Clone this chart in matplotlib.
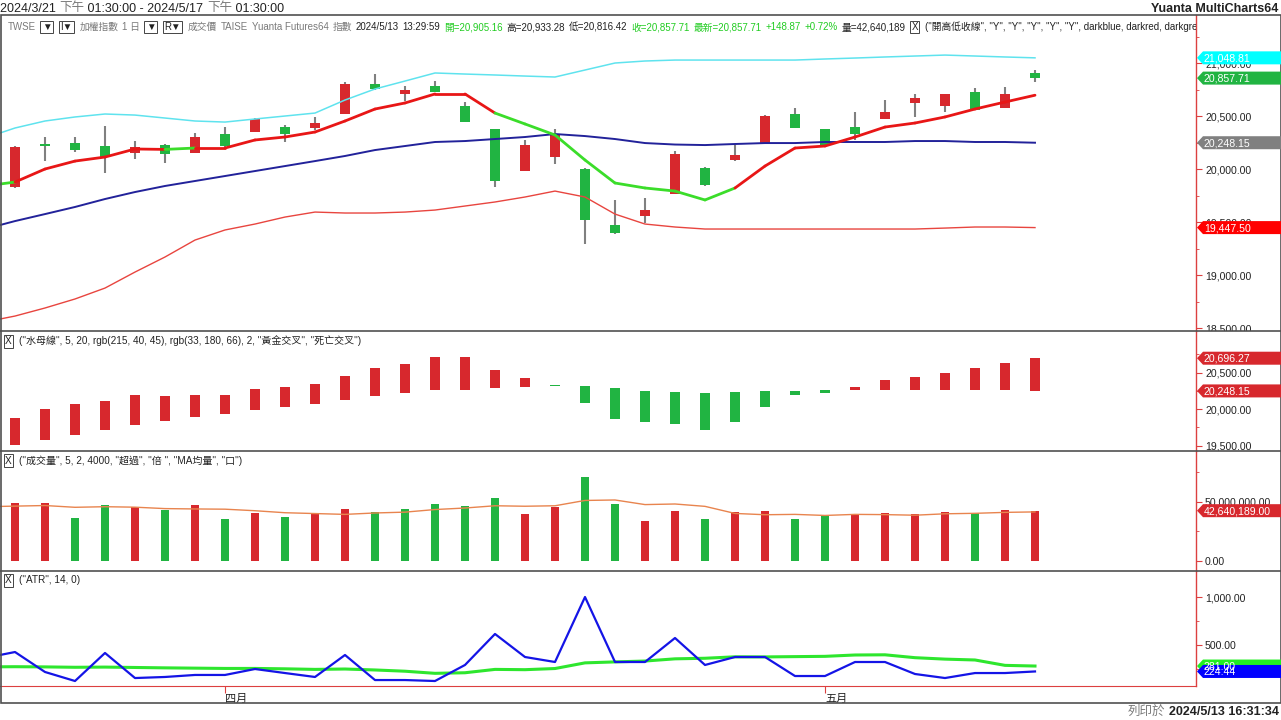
import numpy as np
import matplotlib
matplotlib.use("Agg")
import matplotlib.pyplot as plt
import matplotlib.transforms as mtransforms
from matplotlib.patches import Polygon, Rectangle
from matplotlib.lines import Line2D
from matplotlib.ticker import FixedLocator, FuncFormatter

plt.rcParams['font.family'] = ['Liberation Sans', 'Noto Sans CJK TC', 'DejaVu Sans']

# ---------------- data ----------------
month_ticks = [7, 27]
month_labels = ['四月', '五月']

opens = [19830, 20236, 20245, 20217, 20151, 20226, 20151, 20330, 20349, 20396,
         20387, 20519, 20802, 20708, 20783, 20594, 20377, 19981, 20113, 20000,
         19472, 19557, 19764, 20009, 20085, 20236, 20519, 20377, 20396, 20472,
         20623, 20594, 20726, 20575, 20905.16]
highs = [20215, 20302, 20302, 20406, 20264, 20236, 20340, 20396, 20481, 20415,
         20491, 20821, 20896, 20783, 20830, 20632, 20380, 20274, 20377, 20005,
         19708, 19726, 20170, 20019, 20226, 20505, 20575, 20380, 20538, 20651,
         20708, 20712, 20764, 20774, 20933.28]
lows = [19825, 20075, 20160, 19962, 20094, 20057, 20148, 20208, 20345, 20255,
        20368, 20515, 20750, 20642, 20722, 20440, 19830, 19978, 20047, 19292,
        19387, 19491, 19760, 19840, 20080, 20232, 20383, 20213, 20274, 20468,
        20491, 20538, 20553, 20571, 20816.42]
closes = [20208, 20217, 20179, 20113, 20208, 20142, 20302, 20217, 20472, 20330,
          20434, 20802, 20755, 20750, 20726, 20443, 19887, 20226, 20321, 19519,
          19396, 19613, 20142, 19849, 20132, 20500, 20387, 20217, 20330, 20538,
          20670, 20708, 20557, 20708.84, 20857.71]

# line series start one bar before the first candle (bar -1 .. 34)
band_upper = [20292, 20387, 20453, 20491, 20519, 20509, 20481, 20453, 20443, 20472,
              20500, 20528, 20651, 20755, 20830, 20906, 20896, 20887, 20877, 20868,
              20934, 21000, 21019, 21028, 21028, 21028, 21028, 21028, 21038, 21047,
              21057, 21066, 21075, 21066, 21057, 21048.81]
ma20 = [19434, 19509, 19575, 19642, 19717, 19783, 19840, 19887, 19934, 19981,
        20028, 20075, 20123, 20179, 20217, 20255, 20264, 20283, 20302, 20330,
        20311, 20283, 20245, 20231, 20226, 20236, 20245, 20245, 20255, 20255,
        20255, 20264, 20264, 20255, 20255, 20248.15]
band_lower = [18557, 18613, 18689, 18774, 18877, 19028, 19170, 19330, 19425, 19481,
              19547, 19594, 19585, 19585, 19594, 19613, 19651, 19689, 19736, 19792,
              19736, 19575, 19481, 19453, 19434, 19434, 19434, 19434, 19434, 19434,
              19434, 19434, 19443, 19453, 19453, 19447.5]
ma5 = [19840, 19877, 20000, 20075, 20113, 20189, 20185, 20198, 20198, 20274,
       20302, 20349, 20453, 20566, 20623, 20708, 20708, 20528, 20425, 20321,
       20085, 19868, 19821, 19792, 19708, 19821, 20028, 20198, 20217, 20302,
       20396, 20434, 20491, 20566, 20632, 20696.27]
# colour of the MA5 segment that ends at bar i (1 = red / rising, 0 = green)
ma5_seg_up = [0, 1, 1, 1, 1, 1, 0, 1, 1, 1, 1, 1, 1, 1, 1, 1, 1, 0, 0, 0,
              0, 0, 0, 0, 0, 1, 1, 1, 1, 1, 1, 1, 1, 1, 1]

volume_m = [49.2, 49.2, 36.4, 47.5, 45.8, 43.2, 47.5, 35.6, 40.7, 37.3,
            39.8, 44.1, 41.5, 44.1, 48.3, 46.6, 53.4, 39.8, 45.8, 71.2,
            48.3, 33.9, 42.4, 35.6, 41.5, 42.4, 35.6, 38.1, 39.8, 40.7,
            39.8, 41.5, 40.7, 43.2, 42.640189]
volume_up = [1, 1, 0, 0, 1, 0, 1, 0, 1, 0, 1, 1, 0, 0, 0, 0, 0, 1, 1, 0,
             0, 1, 1, 0, 1, 1, 0, 0, 1, 1, 1, 1, 0, 1, 1]
volume_ma_m = [46.0, 46.5, 47.0, 45.5, 46.0, 45.6, 44.4, 44.1, 43.9, 42.6,
               40.9, 40.2, 39.5, 40.7, 41.4, 43.6, 44.9, 46.8, 46.4, 46.8,
               51.3, 51.7, 47.8, 48.3, 46.3, 40.3, 39.2, 39.5, 38.6, 39.5,
               39.3, 38.8, 40.0, 40.4, 41.2, 41.6]
true_range = [365, 427, 219, 125, 417, 156, 167, 188, 188, 250,
              208, 167, 396, 135, 135, 125, 292, 615, 375, 323,
              1000, 323, 323, 573, 292, 375, 375, 177, 177, 323,
              323, 198, 156, 208, 208, 224.44]
atr14 = [272, 274, 272, 268, 270, 266, 262, 259, 256, 256,
         252, 246, 250, 240, 227, 205, 211, 246, 243, 255,
         314, 324, 333, 356, 362, 377, 376, 379, 382, 396,
         398, 368, 353, 344, 288, 281]

# ---------------- style ----------------
RED = '#D7282D'
GREEN = '#21B442'
WICK = '#808080'
AXRED = '#DC4040'
FRAME = '#505050'
TXT = '#222222'
GRAY = '#7A7A7A'
LGREEN = '#22CC22'

W, H = 1281, 720
AXR = 1196
AXF = AXR / W
fig = plt.figure(figsize=(W / 100, H / 100), dpi=100)
fig.patch.set_facecolor('white')


def fx(px):
    return px / W


def fy(py):
    return 1 - py / H


n = len(closes)
x = np.arange(n)
xl = np.arange(-1, n)
XL = (-0.5, -0.5 + AXR / 30.0)

panels = [(15, 331), (331, 451), (451, 571), (571, 686)]
axes = []
for top, bot in panels:
    a = fig.add_axes([0, fy(bot), AXF, (bot - top) / H])
    a.set_xlim(*XL)
    a.set_facecolor('white')
    for s in ['top', 'left', 'bottom']:
        a.spines[s].set_visible(False)
    a.spines['right'].set_color(AXRED)
    a.spines['right'].set_linewidth(1.0)
    a.yaxis.tick_right()
    a.tick_params(axis='y', which='major', direction='out', length=4, color=AXRED,
                  labelsize=7.6, labelcolor=TXT, pad=2.5)
    a.tick_params(axis='y', which='minor', direction='out', length=2, color=AXRED)
    a.tick_params(axis='x', which='both', bottom=False, labelbottom=False)
    a.yaxis.set_major_formatter(FuncFormatter(lambda v, p: f'{v:,.2f}'))
    axes.append(a)
ax1, ax2, ax3, ax4 = axes

# ---- main price panel ----
o = np.array(opens, float)
c = np.array(closes, float)
up = c >= o
ax1.vlines(x, lows, highs, color=WICK, lw=1.5, zorder=2)
ax1.bar(x, np.abs(c - o), bottom=np.minimum(o, c), width=0.34,
        color=np.where(up, RED, GREEN), linewidth=0, zorder=3)
ax1.plot(xl, band_upper, color='#5FE3EE', lw=1.1, zorder=4)
ax1.plot(xl, ma20, color='#22229A', lw=1.4, zorder=4)
ax1.plot(xl, band_lower, color='#E8453F', lw=1.0, zorder=4)
for i in range(n):
    ax1.plot([xl[i], xl[i + 1]], [ma5[i], ma5[i + 1]],
             color='#E81616' if ma5_seg_up[i] else '#3BDD2A', lw=2.0,
             solid_capstyle='round', zorder=5)
ax1.set_ylim(18472, 21453)
ax1.yaxis.set_major_locator(FixedLocator([18500, 19000, 19500, 20000, 20500, 21000]))
ax1.yaxis.set_minor_locator(FixedLocator([18750, 19250, 19750, 20250, 20750, 21250]))

# ---- MA5 / MA20 panel ----
m5 = np.array(ma5[1:])
m20 = np.array(ma20[1:])
ax2.bar(x, np.abs(m5 - m20), bottom=np.minimum(m5, m20), width=0.34,
        color=np.where(m5 > m20, RED, GREEN), linewidth=0)
ax2.set_ylim(19425, 21069)
ax2.yaxis.set_major_locator(FixedLocator([19500, 20000, 20500]))
ax2.yaxis.set_minor_locator(FixedLocator([19750, 20250, 20750]))

# ---- volume panel ----
vol = np.array(volume_m) * 1e6
ax3.bar(x, vol, width=0.27, color=np.where(np.array(volume_up) == 1, RED, GREEN), linewidth=0)
ax3.plot(xl, np.array(volume_ma_m) * 1e6, color='#E8844E', lw=1.0)
ax3.set_ylim(-8.47e6, 93.2e6)
ax3.yaxis.set_major_locator(FixedLocator([0, 50e6]))
ax3.yaxis.set_minor_locator(FixedLocator([25e6, 75e6]))

# ---- ATR panel ----
ax4.plot(xl, atr14, color='#2EE62E', lw=2.2)
ax4.plot(xl, true_range, color='#1414E6', lw=1.6)
ax4.set_ylim(73, 1271)
ax4.yaxis.set_major_locator(FixedLocator([500, 1000]))
ax4.yaxis.set_minor_locator(FixedLocator([250, 750]))
ax4.spines['bottom'].set_visible(True)
ax4.spines['bottom'].set_color(AXRED)
ax4.set_xticks(month_ticks)
ax4.set_xticklabels(month_labels)
ax4.tick_params(axis='x', which='major', bottom=True, labelbottom=True, direction='out',
                length=5, color=AXRED, labelsize=8, labelcolor=TXT, pad=1)
for lab in ax4.get_xticklabels():
    lab.set_ha('left')

# clip tick labels to their panel band
for a, (top, bot) in zip(axes, panels):
    bb = mtransforms.TransformedBbox(mtransforms.Bbox([[0, fy(bot)], [1, fy(top)]]), fig.transFigure)
    for t in a.yaxis.get_major_ticks():
        t.label2.set_clip_box(bb)
        t.label2.set_clip_on(True)

# ---- value tags on the right ----
def tag(a, value, fc, tc='white'):
    base = mtransforms.blended_transform_factory(fig.transFigure, a.transData)
    tr = mtransforms.Affine2D() + mtransforms.ScaledTranslation(AXF, value, base)
    verts = [(1, 0), (7, 6.5), (86, 6.5), (86, -6.5), (7, -6.5)]
    fig.add_artist(Polygon(verts, closed=True, transform=tr, fc=fc, ec='none', zorder=20))
    fig.text(8, -0.5, f'{value:,.2f}', transform=tr, fontsize=7.6, color=tc,
             va='center', ha='left', zorder=21)

tag(ax1, band_upper[-1], '#00FFFF')
tag(ax1, closes[-1], GREEN)
tag(ax1, ma20[-1], '#808080')
tag(ax1, band_lower[-1], '#FF0000')
tag(ax2, ma5[-1], RED)
tag(ax2, ma20[-1], RED)
tag(ax3, vol[-1], RED)
tag(ax4, atr14[-1], '#22EE22')
tag(ax4, true_range[-1], '#0000FF')

# ---- frame & separators ----
for yy in [331, 451, 571]:
    fig.add_artist(Line2D([0, 1], [fy(yy), fy(yy)], transform=fig.transFigure,
                          color=FRAME, lw=1.2, zorder=15))
fig.add_artist(Rectangle((fx(0.5), fy(703)), fx(1280), (703 - 15) / H, transform=fig.transFigure,
                         fill=False, ec=FRAME, lw=1.2, zorder=15))

# ---- texts ----
renderer = fig.canvas.get_renderer()


def run_text(x0, y, pieces, size, clipbox=None, gap=4):
    xx = x0
    for s, col, boxed, weight in pieces:
        kw = {}
        if boxed:
            kw['bbox'] = dict(boxstyle='square,pad=0.15', fc='white', ec='#444444', lw=0.7)
        t = fig.text(fx(xx + (2 if boxed else 0)), fy(y), s, fontsize=size, color=col,
                     va='center', ha='left', fontweight=weight, zorder=18, **kw)
        if clipbox is not None:
            t.set_clip_box(clipbox)
            t.set_clip_on(True)
        bb = t.get_window_extent(renderer)
        xx = bb.x1 + (gap + 3 if boxed else gap)
    return xx


run_text(0, 8.5, [('2024/3/21 ', TXT, False, 'normal'), ('下午', GRAY, False, 'normal'),
                  (' 01:30:00 - 2024/5/17 ', TXT, False, 'normal'), ('下午', GRAY, False, 'normal'),
                  (' 01:30:00', TXT, False, 'normal')], 9, gap=0)
fig.text(fx(1278), fy(8.5), 'Yuanta MultiCharts64', fontsize=9, fontweight='bold',
         color=TXT, ha='right', va='center')
t_end = fig.text(fx(1279), fy(712), '2024/5/13 16:31:34', fontsize=9, fontweight='bold',
                 color=TXT, ha='right', va='center')
bb = t_end.get_window_extent(renderer)
fig.text(fx(bb.x0 - 4), fy(712), '列印於', fontsize=9, color=GRAY, ha='right', va='center')

chg = closes[-1] - closes[-2]
pct = chg / closes[-2] * 100
clip_hdr = mtransforms.TransformedBbox(mtransforms.Bbox([[0, 0], [AXF, 1]]), fig.transFigure)
run_text(8, 27, [
    ('TWSE', GRAY, False, 'normal'),
    ('▼', TXT, True, 'normal'),
    ('I▼', TXT, True, 'normal'),
    ('加權指數', GRAY, False, 'normal'),
    ('1 日', GRAY, False, 'normal'),
    ('▼', TXT, True, 'normal'),
    ('R▼', TXT, True, 'normal'),
    ('成交價', GRAY, False, 'normal'),
    ('TAISE', GRAY, False, 'normal'),
    ('Yuanta Futures64', GRAY, False, 'normal'),
    ('指數', GRAY, False, 'normal'),
    ('2024/5/13', TXT, False, 'normal'),
    ('13:29:59', TXT, False, 'normal'),
    (f'開={opens[-1]:,.2f}', LGREEN, False, 'normal'),
    (f'高={highs[-1]:,.2f}', TXT, False, 'normal'),
    (f'低={lows[-1]:,.2f}', TXT, False, 'normal'),
    (f'收={closes[-1]:,.2f}', LGREEN, False, 'normal'),
    (f'最新={closes[-1]:,.2f}', LGREEN, False, 'normal'),
    (f'+{chg:,.2f}', LGREEN, False, 'normal'),
    (f'+{pct:.2f}%', LGREEN, False, 'normal'),
    (f'量={volume_m[-1] * 1e6:,.0f}', TXT, False, 'normal'),
    ('X', TXT, True, 'normal'),
    ('("開高低收線", "Y", "Y", "Y", "Y", "Y", darkblue, darkred, darkgreen, darkgreen, 2)',
     TXT, False, 'normal'),
], 7.0, clipbox=clip_hdr, gap=3.8)

legends = [
    (341, '("水母線", 5, 20, rgb(215, 40, 45), rgb(33, 180, 66), 2, "黃金交叉", "死亡交叉")'),
    (461, '("成交量", 5, 2, 4000, "超過", "倍 ", "MA均量", "口")'),
    (580, '("ATR", 14, 0)'),
]
for yy, s in legends:
    run_text(3, yy, [('X', TXT, True, 'normal'), (s, TXT, False, 'normal')], 7.2)

fig.savefig('out.png', dpi=100, facecolor='white')
